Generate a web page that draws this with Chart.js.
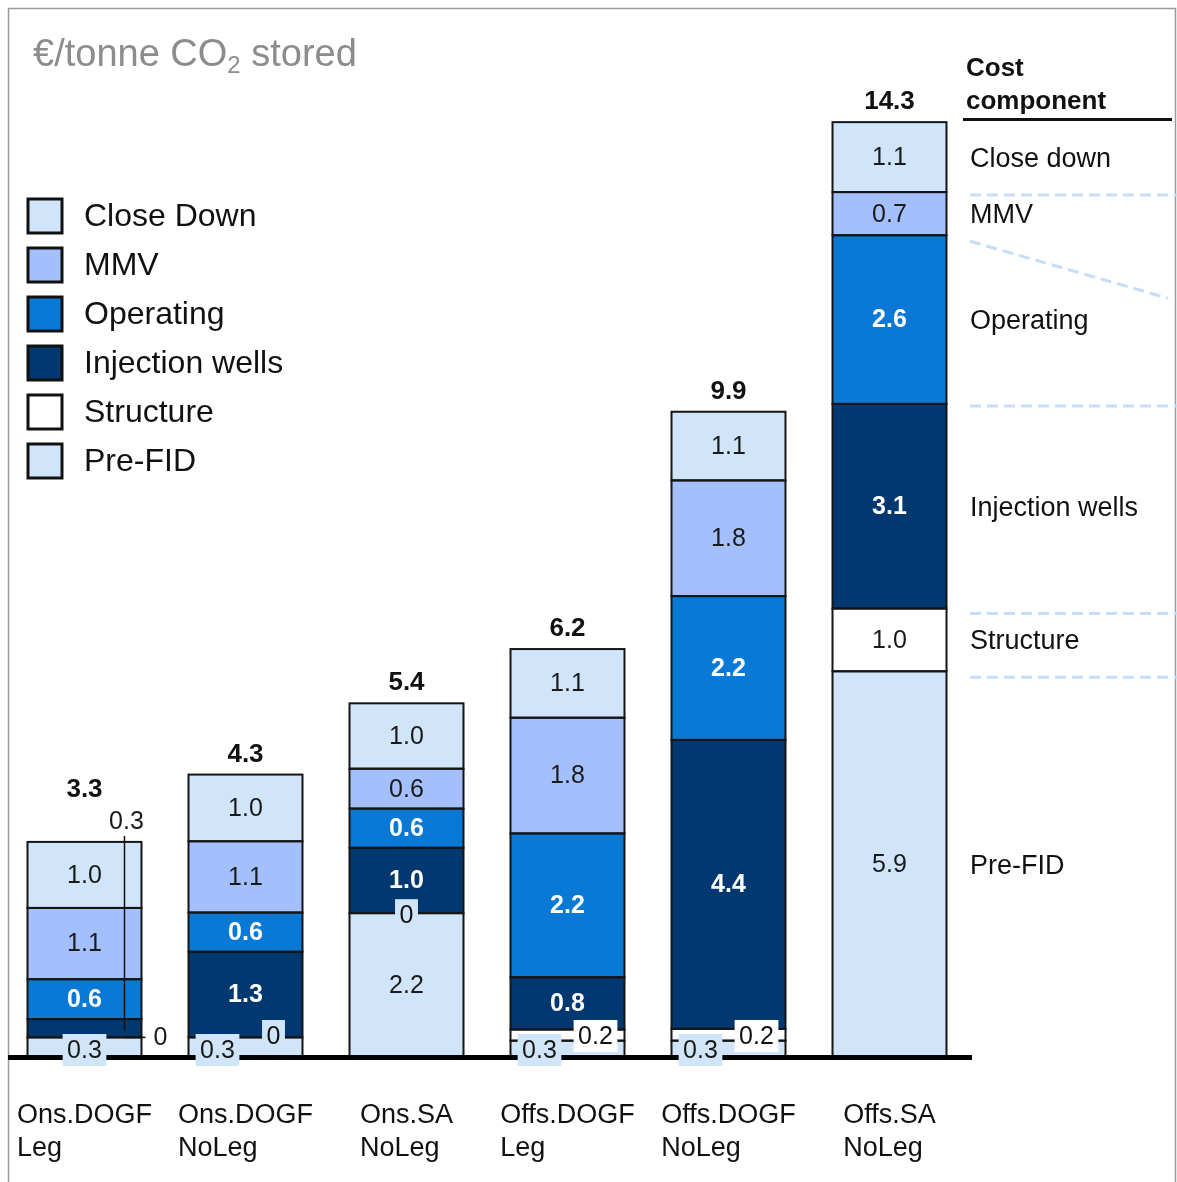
<!DOCTYPE html>
<html><head><meta charset="utf-8">
<script src="https://cdn.jsdelivr.net/npm/chart.js@4"></script>
<style>html,body{margin:0;padding:0;background:#fff;}canvas{display:block;}</style>
</head><body>
<canvas id="c" width="1177" height="1182"></canvas>
<script>
// ---- data ----
const categories = [['Ons.DOGF','Leg'],['Ons.DOGF','NoLeg'],['Ons.SA','NoLeg'],['Offs.DOGF','Leg'],['Offs.DOGF','NoLeg'],['Offs.SA','NoLeg']];
const preFID         = [0.30, 0.30, 2.20, 0.25, 0.25, 5.90];
const structure      = [0.00, 0.00, 0.00, 0.17, 0.18, 0.96];
const injectionWells = [0.28, 1.31, 1.00, 0.80, 4.42, 3.13];
const operating      = [0.61, 0.60, 0.60, 2.20, 2.20, 2.58];
const mmv            = [1.09, 1.09, 0.61, 1.77, 1.77, 0.66];
const closeDown      = [1.01, 1.02, 1.00, 1.05, 1.05, 1.07];
const totals         = [3.3, 4.3, 5.4, 6.2, 9.9, 14.3];
const legendNames    = ['Close Down','MMV','Operating','Injection wells','Structure','Pre-FID'];
const componentNames = ['Pre-FID','Structure','Injection wells','Operating','MMV','Close down'];
const yMin = 0, yMax = 16;

// ---- style ----
const FONT = '"Liberation Sans", Arial, sans-serif';
const C_LIGHT = '#d0e5fa', C_MMV = '#a4c0fc', C_OPER = '#0a79d5', C_INJ = '#00386f', C_STRUCT = '#ffffff';
const seriesColors = [C_LIGHT, C_STRUCT, C_INJ, C_OPER, C_MMV, C_LIGHT];
const whiteLabel = [false, false, true, true, false, false];
const legendColors = [C_LIGHT, C_MMV, C_OPER, C_INJ, C_STRUCT, C_LIGHT];
const seriesData = [preFID, structure, injectionWells, operating, mmv, closeDown];

function fmt(v){ return v === 0 ? '0' : (Math.round(v*10)/10).toFixed(1); }
function txt(ctx, s, x, y, font, color, align){
  ctx.font = font; ctx.fillStyle = color; ctx.textAlign = align || 'center'; ctx.textBaseline = 'middle';
  ctx.fillText(s, x, y);
}
function boxTxt(ctx, s, x, y, font, color, bg){
  ctx.font = font;
  const w = ctx.measureText(s).width + 9, h = 32;
  ctx.fillStyle = bg; ctx.fillRect(x - w/2, y - h/2, w, h);
  txt(ctx, s, x, y + 1, font, color);
}

const decor = {
  id: 'decor',
  beforeDraw(chart){
    const ctx = chart.ctx;
    ctx.save();
    // frame
    ctx.strokeStyle = '#9a9a9a'; ctx.lineWidth = 1.5;
    ctx.beginPath(); ctx.moveTo(8.5, 1200); ctx.lineTo(8.5, 8.5); ctx.lineTo(1175.5, 8.5); ctx.lineTo(1175.5, 1200); ctx.stroke();
    // title
    ctx.fillStyle = '#8c8c8c'; ctx.textBaseline = 'alphabetic'; ctx.textAlign = 'left';
    ctx.font = '38px ' + FONT;
    let x = 33; const by = 66;
    const p1 = '€/tonne CO'; ctx.fillText(p1, x, by); x += ctx.measureText(p1).width;
    ctx.font = '24px ' + FONT; ctx.fillText('2', x, by + 7); x += ctx.measureText('2').width;
    ctx.font = '38px ' + FONT; ctx.fillText(' stored', x, by);
    // legend
    legendNames.forEach((n, k) => {
      const cy = 216 + k * 49;
      ctx.fillStyle = legendColors[k]; ctx.fillRect(28, cy - 17, 34, 34);
      ctx.strokeStyle = '#111'; ctx.lineWidth = 3; ctx.strokeRect(28, cy - 17, 34, 34);
      txt(ctx, n, 84, cy + 1, '32px ' + FONT, '#111', 'left');
    });
    // header
    txt(ctx, 'Cost', 966, 69, 'bold 26px ' + FONT, '#111', 'left');
    txt(ctx, 'component', 966, 102, 'bold 26px ' + FONT, '#111', 'left');
    ctx.fillStyle = '#111'; ctx.fillRect(963, 118, 209, 3);
    ctx.restore();
  },
  afterDatasetsDraw(chart){
    const ctx = chart.ctx, area = chart.chartArea;
    const metas = seriesData.map((_, d) => chart.getDatasetMeta(d));
    const el = (d, i) => metas[d].data[i];
    const hOf = (d, i) => { const e = el(d, i); return Math.abs(e.base - e.y); };
    ctx.save();
    // outlines
    ctx.strokeStyle = '#151515'; ctx.lineWidth = 2;
    metas.forEach(m => m.data.forEach(e => {
      const h = e.base - e.y; if (h <= 0.5) return;
      ctx.strokeRect(e.x - e.width/2, e.y, e.width, h);
    }));
    // baseline
    const bottom = area.bottom;
    ctx.fillStyle = '#000'; ctx.fillRect(8, bottom - 2, 964, 5);
    const nf = '25px ' + FONT, bf = 'bold 25px ' + FONT;
    categories.forEach((cat, i) => {
      const injSmall = hOf(2, i) < 26;
      const top = el(5, i).y;
      const right = el(0, i).x + el(0, i).width/2;
      seriesData.forEach((arr, d) => {
        const e = el(d, i), v = arr[i], h = e.base - e.y;
        const s = fmt(v);
        if (h >= 26) {
          txt(ctx, s, e.x, (e.y + e.base)/2 + 1, whiteLabel[d] ? bf : nf, whiteLabel[d] ? '#fff' : '#1a1a1a');
          return;
        }
        if (d === 0) {
          boxTxt(ctx, s, injSmall ? e.x : e.x - 28, bottom - 7, nf, '#1a1a1a', C_LIGHT);
        } else if (d === 1) {
          if (injSmall) {
            ctx.strokeStyle = '#111'; ctx.lineWidth = 1.5;
            ctx.beginPath(); ctx.moveTo(right - 16, e.base); ctx.lineTo(right + 4, e.base); ctx.stroke();
            txt(ctx, s, right + 19, e.base + 1, nf, '#1a1a1a', 'center');
          } else if (hOf(0, i) >= 26) {
            boxTxt(ctx, s, e.x, e.y + 2, nf, '#111', C_LIGHT);
          } else {
            boxTxt(ctx, s, e.x + 28, bottom - 21, nf, '#111', v === 0 ? C_LIGHT : C_STRUCT);
          }
        } else if (d === 2) {
          ctx.strokeStyle = '#111'; ctx.lineWidth = 1.5;
          ctx.beginPath(); ctx.moveTo(right - 17, top - 6); ctx.lineTo(right - 17, (e.y + e.base)/2 + 2); ctx.stroke();
          txt(ctx, s, right - 15, top - 20, nf, '#1a1a1a');
        }
      });
      // total
      txt(ctx, fmt(totals[i]), el(0, i).x, top - (injSmall ? 52 : 20), 'bold 26px ' + FONT, '#111');
      // category label
      ctx.font = '27px ' + FONT;
      const w = ctx.measureText(cat[0]).width;
      const lx = el(0, i).x - w/2;
      txt(ctx, cat[0], lx, 1116, '27px ' + FONT, '#111', 'left');
      txt(ctx, cat[1], lx, 1149, '27px ' + FONT, '#111', 'left');
    });
    // right-hand component annotation based on last bar
    const last = categories.length - 1;
    ctx.setLineDash([11, 6]); ctx.strokeStyle = '#c6ddf7'; ctx.lineWidth = 3;
    componentNames.forEach((n, d) => {
      const e = el(d, last);
      txt(ctx, n, 970, (e.y + e.base)/2 + 2, '27px ' + FONT, '#111', 'left');
    });
    const dash = (x1, y1, x2, y2) => { ctx.beginPath(); ctx.moveTo(x1, y1); ctx.lineTo(x2, y2); ctx.stroke(); };
    dash(970, el(5, last).base + 3, 1177, el(5, last).base + 3);
    dash(970, el(4, last).base + 6, 1168, el(4, last).base + 63);
    dash(970, el(3, last).base + 2, 1177, el(3, last).base + 2);
    dash(970, el(2, last).base + 5, 1177, el(2, last).base + 5);
    dash(970, el(1, last).base + 6, 1177, el(1, last).base + 6);
    ctx.restore();
  }
};

new Chart(document.getElementById('c'), {
  type: 'bar',
  data: {
    labels: categories.map(c => c.join(' ')),
    datasets: seriesData.map((arr, d) => ({
      label: componentNames[d], data: arr, backgroundColor: seriesColors[d],
      borderWidth: 0, categoryPercentage: 1, barPercentage: 0.708
    }))
  },
  options: {
    responsive: false, animation: false, devicePixelRatio: 1,
    layout: { padding: { left: 4, right: 207, top: 11, bottom: 125 } },
    plugins: { legend: { display: false }, tooltip: { enabled: false } },
    scales: {
      x: { stacked: true, display: false },
      y: { stacked: true, display: false, min: yMin, max: yMax }
    }
  },
  plugins: [decor]
});
</script>
</body></html>
